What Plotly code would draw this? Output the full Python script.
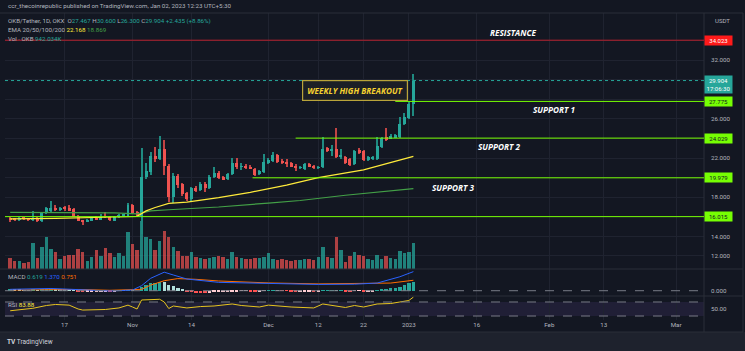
import plotly.graph_objects as go
import pandas as pd

# ---------------- data ----------------
dates = pd.date_range("2022-10-05", "2023-01-02", freq="D")

opens = [15.86, 15.75, 15.70, 15.85, 15.82, 15.70, 15.90, 15.55, 16.38, 16.60, 16.92, 16.72, 16.85, 16.88, 16.75,
         16.05, 15.65, 15.52, 15.62, 15.92, 15.72, 16.00, 16.00, 15.62, 15.98, 16.12, 16.08,
         17.20, 16.50, 16.10, 20.05, 20.60, 22.20, 21.90, 22.90, 21.20, 18.00, 20.20, 19.35, 18.40, 17.80, 18.90,
         18.70, 19.35, 18.90, 20.10, 20.50, 20.05, 19.85, 20.40, 21.50, 21.10, 21.15, 21.10, 20.90, 20.35, 20.60,
         21.50, 21.70, 22.30, 21.70, 21.60, 21.50, 21.10, 21.00, 20.85, 21.40, 21.20, 20.98, 21.08, 23.00, 22.75,
         22.90, 22.10, 22.10, 21.90, 21.40, 22.80, 22.70, 21.80, 21.90, 21.90, 23.10, 24.10, 24.00, 24.10, 24.10,
         25.50, 26.10, 27.467]
highs = [15.95, 15.85, 15.95, 15.92, 15.90, 16.55, 15.98, 16.45, 16.98, 17.60, 17.25, 16.95, 17.10, 17.20, 16.85,
         16.15, 15.72, 15.75, 15.98, 16.05, 16.25, 16.45, 16.10, 16.05, 16.25, 16.30, 17.45,
         17.32, 16.62, 23.00, 21.50, 22.60, 23.10, 24.20, 23.80, 21.40, 20.50, 20.35, 19.45, 18.55, 19.00, 19.10,
         19.60, 19.55, 20.25, 21.10, 20.65, 20.20, 20.50, 22.00, 21.95, 21.45, 21.40, 21.25, 21.00, 20.80, 22.45,
         21.95, 22.60, 22.45, 21.85, 21.90, 21.60, 21.40, 21.20, 21.50, 21.50, 21.30, 21.15, 24.10, 23.15, 23.30,
         25.05, 22.90, 22.20, 22.00, 22.80, 23.00, 22.80, 22.20, 22.20, 24.10, 24.10, 25.05, 24.40, 24.50, 26.20,
         26.60, 27.70, 30.600]
lows = [15.45, 15.62, 15.62, 15.75, 15.60, 15.62, 15.50, 15.45, 16.30, 16.50, 16.60, 16.62, 16.55, 16.60, 15.95,
        15.55, 15.15, 15.45, 15.55, 15.65, 15.65, 15.85, 15.55, 15.55, 15.90, 16.00, 16.00,
        16.30, 16.00, 14.20, 19.85, 20.30, 21.60, 21.80, 20.30, 17.50, 17.40, 18.90, 18.10, 17.60, 17.55, 18.55,
        18.60, 18.55, 18.80, 20.00, 19.90, 19.75, 19.75, 20.30, 20.90, 20.75, 20.90, 20.85, 20.20, 20.25, 20.50,
        21.40, 21.60, 21.50, 21.40, 21.10, 21.05, 20.70, 20.85, 20.75, 21.05, 20.85, 20.90, 21.00, 22.60, 22.20,
        22.00, 21.90, 21.40, 21.20, 21.30, 22.40, 21.70, 21.70, 21.80, 21.80, 23.00, 23.70, 23.90, 24.00, 24.00,
        25.40, 26.00, 26.300]
closes = [15.72, 15.70, 15.85, 15.80, 15.70, 15.90, 15.62, 16.40, 16.85, 16.90, 16.72, 16.85, 16.82, 16.68, 16.02,
          15.62, 15.52, 15.68, 15.90, 15.72, 16.02, 15.98, 15.65, 15.98, 16.12, 16.18, 17.20,
          16.42, 16.10, 20.05, 20.70, 22.20, 21.90, 22.90, 21.20, 18.00, 20.20, 19.25, 18.30, 17.80, 18.90, 18.70,
          19.35, 18.90, 20.10, 20.50, 20.00, 19.85, 20.40, 21.50, 21.10, 21.15, 21.05, 20.90, 20.30, 20.70, 21.60,
          21.80, 22.30, 21.60, 21.50, 21.40, 21.10, 21.00, 21.05, 21.40, 21.10, 20.95, 21.08, 22.90, 22.70, 22.80,
          22.10, 22.35, 21.50, 21.30, 22.70, 22.60, 21.80, 22.10, 22.10, 23.20, 24.00, 23.80, 24.20, 24.30, 25.50,
          26.20, 27.469, 29.904]
volume_k = [398, 290, 290, 217, 253, 941, 398, 796, 1158, 724, 615, 362, 471, 507, 507,
            724, 615, 290, 434, 688, 471, 760, 579, 434, 579, 471, 1339,
            905, 688, 1738, 1158, 1086, 688, 1014, 1376, 1158, 796, 652, 471, 471, 615, 434,
            398, 362, 398, 434, 471, 434, 362, 615, 434, 398, 362, 362, 398, 398, 434,
            579, 362, 326, 362, 326, 290, 326, 326, 362, 362, 326, 434, 796, 434, 398,
            1158, 688, 253, 471, 615, 507, 471, 362, 326, 507, 362, 471, 398, 362, 652,
            579, 615, 942]

macd_hist = [0.08, 0.07, 0.06, 0.05, 0.04, 0.06, 0.04, 0.06, 0.09, 0.10, 0.09, 0.08, 0.07, 0.05, 0.01,
             -0.04, -0.07, -0.07, -0.06, -0.06, -0.04, -0.03, -0.04, -0.03, -0.02, -0.01, 0.05,
             0.03, 0.00, 0.25, 0.38, 0.52, 0.56, 0.63, 0.62, 0.42, 0.34, 0.20, 0.08, -0.05, -0.12, -0.17,
             -0.19, -0.20, -0.16, -0.12, -0.11, -0.10, -0.08, -0.04, -0.03, -0.02, -0.02, -0.03, -0.06, -0.05, -0.01,
             0.01, 0.03, 0.01, -0.01, -0.02, -0.04, -0.05, -0.05, -0.04, -0.04, -0.05, -0.04, 0.03, 0.05, 0.05,
             0.01, 0.01, -0.03, -0.06, -0.02, -0.02, -0.06, -0.06, -0.05, 0.02, 0.10, 0.13, 0.16, 0.19, 0.30,
             0.42, 0.53, 0.619]

ema_yellow_dates = ["2022-10-05", "2022-10-15", "2022-10-28", "2022-11-02", "2022-11-04", "2022-11-06",
                    "2022-11-09", "2022-11-13", "2022-11-20", "2022-11-27", "2022-12-05", "2022-12-12",
                    "2022-12-22", "2022-12-28", "2023-01-02"]
ema_yellow = [15.78, 15.83, 15.98, 16.05, 16.60, 16.95, 17.36, 17.50, 17.96, 18.50, 19.24, 20.00, 20.78, 21.50, 22.168]
ema_green_dates = ["2022-10-05", "2022-10-28", "2022-11-02", "2022-11-05", "2022-11-09", "2022-11-13",
                   "2022-11-20", "2022-12-01", "2022-12-08", "2022-12-18", "2023-01-02"]
ema_green = [16.44, 16.39, 16.29, 16.60, 16.72, 16.80, 17.00, 17.40, 17.66, 18.20, 18.869]

macd_dates = ["2022-10-05", "2022-10-14", "2022-10-20", "2022-10-27", "2022-11-01", "2022-11-03", "2022-11-05",
              "2022-11-08", "2022-11-10", "2022-11-13", "2022-11-20", "2022-12-01", "2022-12-12", "2022-12-20",
              "2022-12-25", "2022-12-30", "2023-01-02"]
macd_line = [0.10, 0.16, 0.08, -0.02, 0.05, 0.36, 0.89, 1.33, 1.13, 0.84, 0.60, 0.53, 0.45, 0.47, 0.55, 1.00, 1.370]
signal_dates = ["2022-10-05", "2022-10-20", "2022-10-27", "2022-11-03", "2022-11-05", "2022-11-08", "2022-11-11",
                "2022-11-15", "2022-11-20", "2022-12-01", "2022-12-12", "2022-12-22", "2022-12-28", "2023-01-02"]
signal_line = [0.05, 0.09, 0.03, 0.10, 0.40, 0.72, 0.87, 0.82, 0.70, 0.56, 0.49, 0.50, 0.55, 0.751]

rsi_dates = ["2022-10-05", "2022-10-10", "2022-10-13", "2022-10-15", "2022-10-18", "2022-10-20", "2022-10-21",
             "2022-10-26", "2022-10-29", "2022-10-31", "2022-11-01", "2022-11-02", "2022-11-03", "2022-11-05",
             "2022-11-07", "2022-11-08", "2022-11-09", "2022-11-10", "2022-11-13", "2022-11-16", "2022-11-19",
             "2022-11-23", "2022-11-25", "2022-11-29", "2022-12-01", "2022-12-06", "2022-12-11", "2022-12-13",
             "2022-12-15", "2022-12-18", "2022-12-20", "2022-12-22", "2022-12-25", "2022-12-28", "2022-12-30",
             "2023-01-01", "2023-01-02"]
rsi = [45, 52, 60, 62.9, 61, 50, 47, 48.6, 53, 61, 55.7, 50, 75.7, 77, 77.7, 70, 51.4, 58.6, 53, 57, 58.6,
       64.3, 60, 55.7, 61, 55.7, 53, 64.3, 61, 54.3, 60, 55.7, 64.3, 65.7, 70, 74.3, 83.88]

price_ticks = [12, 14, 16, 18, 20, 22, 24, 26, 28, 30, 32, 34]
price_tick_text = ["12.000", "14.000", "", "18.000", "", "22.000", "", "26.000", "", "", "32.000", ""]
date_ticks = ["2022-10-17", "2022-11-01", "2022-11-14", "2022-12-01", "2022-12-12", "2022-12-22",
              "2023-01-01", "2023-01-16", "2023-02-01", "2023-02-13", "2023-03-01"]
date_tick_text = ["17", "Nov", "14", "Dec", "12", "22", "2023", "16", "Feb", "13", "Mar"]

resistance = 34.023
last_close = 29.904
support1, support2, support3, support4 = 27.775, 24.029, 19.979, 16.015

# ---------------- styling ----------------
BG = "#131722"
TXT = "#b2b5be"
GRID = "#1f2330"
UP, DN = "#26a69a", "#ef5350"
UPW, DNW = "#1f8a80", "#c24444"
LIME = "#76ff03"
DAY = 86400000
FONT = "Roboto"

up = [c >= o for o, c in zip(opens, closes)]
body_base = [min(o, c) for o, c in zip(opens, closes)]
body_h = [max(abs(c - o), 0.08) for o, c in zip(opens, closes)]
wick_h = [h - l for h, l in zip(highs, lows)]
body_col = [UP if u else DN for u in up]
wick_col = [UPW if u else DNW for u in up]
vol_col = ["rgba(38,166,154,0.75)" if u else "rgba(239,83,80,0.70)" for u in up]

hist_col = []
prev = 0.0
for v in macd_hist:
    if v >= 0:
        hist_col.append("#26a69a" if v >= prev else "#b2dfdb")
    else:
        hist_col.append("#ff5252" if v < prev else "#ffcdd2")
    prev = v

fig = go.Figure()
# volume (base axis, drawn beneath candles)
fig.add_trace(go.Bar(x=dates, y=volume_k, width=0.76 * DAY, marker=dict(color=vol_col, line_width=0),
                     yaxis="y", xaxis="x"))
# wicks & bodies
fig.add_trace(go.Bar(x=dates, y=wick_h, base=lows, width=0.24 * DAY, marker=dict(color=wick_col, line_width=0),
                     yaxis="y2", xaxis="x"))
fig.add_trace(go.Bar(x=dates, y=body_h, base=body_base, width=0.66 * DAY,
                     marker=dict(color=body_col, line_width=0), yaxis="y2", xaxis="x"))
# EMAs
fig.add_trace(go.Scatter(x=ema_green_dates, y=ema_green, mode="lines", line=dict(color="#43a047", width=1.2),
                         yaxis="y2", xaxis="x"))
fig.add_trace(go.Scatter(x=ema_yellow_dates, y=ema_yellow, mode="lines", line=dict(color="#ffeb3b", width=1.2),
                         yaxis="y2", xaxis="x"))
# MACD
fig.add_trace(go.Bar(x=dates, y=macd_hist, width=0.76 * DAY, marker=dict(color=hist_col, line_width=0),
                     yaxis="y3", xaxis="x"))
fig.add_trace(go.Scatter(x=signal_dates, y=signal_line, mode="lines", line=dict(color="#ff6d00", width=1),
                         yaxis="y3", xaxis="x"))
fig.add_trace(go.Scatter(x=macd_dates, y=macd_line, mode="lines", line=dict(color="#2962ff", width=1),
                         yaxis="y3", xaxis="x"))
# RSI
fig.add_trace(go.Scatter(x=rsi_dates, y=rsi, mode="lines", line=dict(color="#e6c41f", width=1),
                         yaxis="y4", xaxis="x"))

x_start, x_end = "2022-10-03 20:24", "2023-03-07 03:36"

# pixel helpers for paper coords (plot area: x 5..704, y 13..320)
def px(xp):
    return (xp - 5) / 699.0

def py(yp):
    return 1 - (yp - 13) / 307.0

shapes = []
# bottom lighter strip
shapes.append(dict(type="rect", xref="paper", yref="paper", x0=px(0), x1=px(745), y0=py(332), y1=py(351),
                   fillcolor="#1e222d", line_width=0, layer="below"))
# frame lines
for yy in (13, 269, 296, 332):
    shapes.append(dict(type="line", xref="paper", yref="paper", x0=px(0), x1=px(743), y0=py(yy), y1=py(yy),
                       line=dict(color="#2a2e39", width=1)))
for xx in (704, 743):
    shapes.append(dict(type="line", xref="paper", yref="paper", x0=px(xx), x1=px(xx), y0=py(332), y1=py(13),
                       line=dict(color="#2a2e39", width=1)))
# RSI band
shapes.append(dict(type="rect", xref="paper", yref="y4", x0=0, x1=1, y0=30, y1=70,
                   fillcolor="rgba(126,87,194,0.13)", line_width=0, layer="below"))
for lvl in (30, 70):
    shapes.append(dict(type="line", xref="paper", yref="y4", x0=0, x1=1, y0=lvl, y1=lvl,
                       line=dict(color="#787b86", width=1, dash="dash")))
shapes.append(dict(type="line", xref="paper", yref="y3", x0=0, x1=1, y0=0, y1=0,
                   line=dict(color="#787b86", width=1, dash="dash")))
# price levels
shapes.append(dict(type="line", xref="paper", yref="y2", x0=0, x1=1, y0=resistance, y1=resistance,
                   line=dict(color="#b8202c", width=1)))
shapes.append(dict(type="line", xref="paper", yref="y2", x0=0, x1=1, y0=last_close, y1=last_close,
                   line=dict(color="#26a69a", width=1, dash="dot")))
shapes.append(dict(type="line", xref="paper", yref="y2", x0=0, x1=1, y0=support4, y1=support4,
                   line=dict(color=LIME, width=1)))
for start, lvl in (("2022-12-29", support1), ("2022-12-07", support2), ("2022-11-27 12:00", support3)):
    shapes.append(dict(type="line", xref="x", yref="y2", x0=start, x1=x_end, y0=lvl, y1=lvl,
                       line=dict(color=LIME, width=1)))

ann = []
def hdr(text, ypix, size=6.2):
    ann.append(dict(text=text, xref="paper", yref="paper", x=px(6), y=py(ypix), xanchor="left",
                    yanchor="middle", showarrow=False, font=dict(family=FONT, size=size, color=TXT)))

def sp(c, t):
    return f"<span style='color:{c}'>{t}</span>"

hdr("ccr_thecoinrepublic published on TradingView.com, Jan 02, 2023 12:23 UTC+5:30", 6)
hdr("OKB/Tether, 1D, OKX  O" + sp(UP, "27.467") + " H" + sp(UP, "30.600") + " L" + sp(UP, "26.300") +
    " C" + sp(UP, "29.904") + " " + sp(UP, "+2.435 (+8.86%)"), 21)
hdr("EMA 20/50/100/200 " + sp("#ffeb3b", "22.168") + " " + sp("#43a047", "18.869"), 29.5)
hdr("Vol · OKB " + sp(UP, "942.034K"), 38.5)
hdr("MACD " + sp("#26a69a", "0.619") + " " + sp("#2962ff", "1.370") + " " + sp("#ff6d00", "0.751"), 277)
hdr("RSI " + sp("#ffeb3b", "83.88"), 305)
ann.append(dict(text="<b>TV</b> TradingView", xref="paper", yref="paper", x=px(5), y=py(342), xanchor="left",
                yanchor="middle", showarrow=False, font=dict(family=FONT, size=6.5, color="#d1d4dc")))
ann.append(dict(text="USDT", xref="paper", yref="paper", x=px(722), y=py(20), xanchor="center",
                yanchor="middle", showarrow=False, font=dict(family=FONT, size=6, color=TXT)))

def tag(val, text, bg, fg, yshift=0):
    ann.append(dict(text=text, xref="paper", yref="y2", x=1, y=val, xanchor="left", yanchor="middle",
                    xshift=0, yshift=yshift, showarrow=False, bgcolor=bg, borderpad=1, width=25,
                    align="center", font=dict(family=FONT, size=6, color=fg)))

tag(resistance, "34.023", "#ff1a1a", "#ffffff")
tag(last_close, "29.904<br>17:06:30", "#26a69a", "#ffffff", yshift=-3.5)
tag(support1, "27.775", LIME, "#131722")
tag(support2, "24.029", LIME, "#131722")
tag(support3, "19.979", LIME, "#131722")
tag(support4, "16.015", LIME, "#131722")

def label(text, xd, yv):
    ann.append(dict(text="<b><i>" + text + "</i></b>", xref="x", yref="y2", x=xd, y=yv, showarrow=False,
                    xanchor="center", yanchor="middle", font=dict(family="Open Sans", size=8.2, color="#ffffff")))

label("RESISTANCE", "2023-01-24", 34.76)
label("SUPPORT 1", "2023-02-02", 26.90)
label("SUPPORT 2", "2023-01-21", 23.20)
label("SUPPORT 3", "2023-01-10 17:00", 19.04)
ann.append(dict(text="<b><i>WEEKLY HIGH BREAKOUT</i></b>", xref="x", yref="y2", x="2022-12-20 02:00", y=28.9,
                showarrow=False, xanchor="center", yanchor="middle", bgcolor="#1c1f26", bordercolor="#b9a43a",
                borderwidth=1.2, borderpad=4, font=dict(family="Open Sans", size=8.2, color="#f5d130")))

fig.update_layout(
    width=745, height=351, margin=dict(l=5, r=41, t=13, b=31),
    paper_bgcolor=BG, plot_bgcolor=BG, showlegend=False, barmode="overlay", bargap=0,
    hovermode=False, shapes=shapes, annotations=ann,
    xaxis=dict(type="date", range=[x_start, x_end], anchor="y4", tickvals=date_ticks, ticktext=date_tick_text,
               showgrid=True, gridcolor=GRID, gridwidth=1, zeroline=False, showline=False, ticks="",
               tickfont=dict(family=FONT, size=6.2, color=TXT), fixedrange=True),
    yaxis=dict(domain=[py(269), 1], range=[0, 9267], visible=False, fixedrange=True),
    yaxis2=dict(overlaying="y", side="right", anchor="x", range=[10.67, 36.8], tickvals=price_ticks,
                ticktext=price_tick_text, showgrid=True, gridcolor=GRID, zeroline=False, showline=False,
                ticks="", ticklabelstandoff=6, tickfont=dict(family=FONT, size=6.2, color=TXT), fixedrange=True),
    yaxis3=dict(domain=[py(296), py(269)], anchor="x", side="right", range=[-0.38, 1.56], tickvals=[0],
                ticktext=["0.000"], showgrid=False, zeroline=False, showline=False, ticks="", ticklabelstandoff=6,
                tickfont=dict(family=FONT, size=6.2, color=TXT), fixedrange=True),
    yaxis4=dict(domain=[0, py(296)], anchor="x", side="right", range=[18.6, 87.1], tickvals=[50],
                ticktext=["50.00"], showgrid=False, zeroline=False, showline=False, ticks="", ticklabelstandoff=6,
                tickfont=dict(family=FONT, size=6.2, color=TXT), fixedrange=True),
)

fig.write_html("out.html")
